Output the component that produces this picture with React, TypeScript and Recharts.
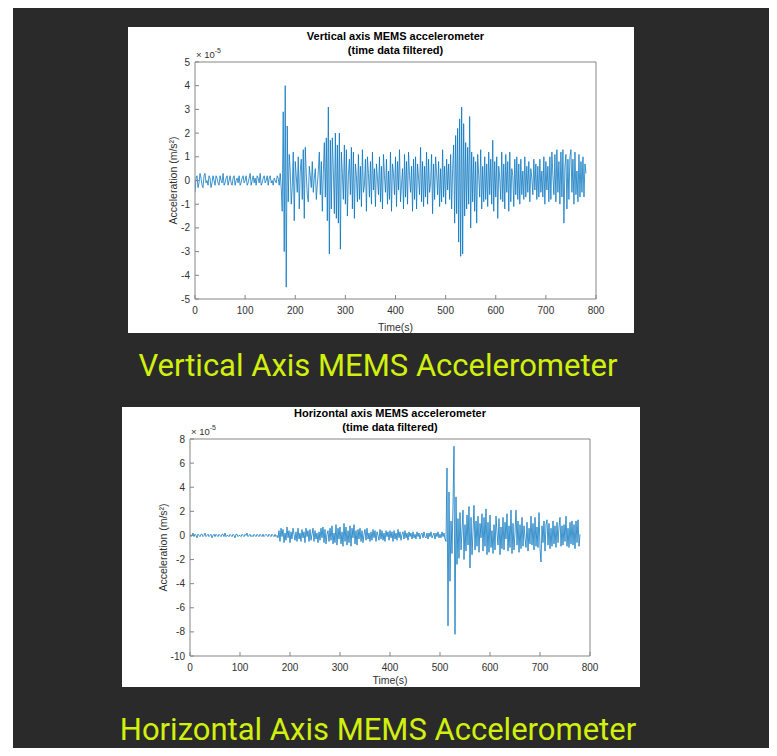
import React from 'react';
import { LineChart, Line, XAxis, YAxis } from 'recharts';

// seconds between samples
const SAMPLE_STEP = 2;

const TIME_TICKS = [0, 100, 200, 300, 400, 500, 600, 700, 800];
const VERTICAL_TICKS = [-5, -4, -3, -2, -1, 0, 1, 2, 3, 4, 5];
const HORIZONTAL_TICKS = [-10, -8, -6, -4, -2, 0, 2, 4, 6, 8];

// acceleration in units of 1e-5 m/s², one value every SAMPLE_STEP seconds (0..780 s)
const VERTICAL_ACCEL = [
  -0.5, 0.1, 0.2, -0.3, -0.1, 0.3, 0.1, -0.2, -0.3, 0.2,
  0.3, -0.1, 0.0, -0.2, 0.2, 0.1, -0.3, -0.1, 0.2, 0.0,
  -0.2, 0.2, 0.1, -0.1, -0.2, 0.2, 0.0, -0.1, 0.3, -0.2,
  -0.1, 0.1, 0.2, -0.2, 0.0, 0.2, -0.1, -0.2, 0.1, 0.2,
  -0.2, 0.0, 0.1, -0.1, 0.2, -0.2, -0.1, 0.1, 0.2, -0.1,
  0.0, 0.2, -0.2, -0.1, 0.1, 0.3, -0.2, 0.0, 0.2, -0.1,
  0.1, -0.2, 0.2, 0.1, -0.1, 0.3, -0.2, -0.1, 0.1, 0.2,
  -0.1, 0.0, 0.2, -0.2, 0.1, 0.2, -0.1, 0.0, -0.2, 0.1,
  0.0, -0.1, 0.2, 0.1, -0.2, 0.3, -0.3, -1.3, 2.9, -3.0,
  4.0, -4.5, 2.3, -0.9, 1.1, 0.4, -1.0, -0.3, 1.2, -1.7,
  0.8, 0.2, -0.5, 1.0, -1.2, 0.4, 0.9, -0.8, 1.3, -1.6,
  1.4, 0.3, -0.6, -0.9, 0.6, 0.2, -0.3, 0.8, -0.5, 0.1,
  0.5, -0.8, -0.2, 0.4, 1.2, -0.6, 0.8, -1.3, 0.3, 1.6,
  -0.7, 1.8, -1.7, 3.1, -3.1, 1.7, -1.2, 1.8, 0.4, -1.4,
  2.0, -1.6, 1.5, -1.8, 2.0, -2.9, 1.2, 0.3, -0.8, 1.5,
  -1.0, 1.3, -1.5, 0.2, 0.9, -0.6, 1.4, -1.2, 1.2, -1.6,
  0.7, 0.2, -0.9, 1.1, -0.8, 0.6, -1.1, 1.3, -0.5, -0.2,
  0.9, -1.3, 1.0, 0.3, -0.7, 0.8, -1.0, 1.2, -0.4, 0.5,
  -1.1, 0.7, 0.1, -0.6, 1.0, -0.9, 0.6, -1.2, 1.1, 0.2,
  -0.5, 0.9, -1.0, 0.4, -0.8, 1.2, -1.3, 0.7, 0.3, -0.6,
  1.0, -1.1, 0.8, -0.4, 1.3, -0.9, -0.2, 0.5, -1.2, 1.1,
  -0.7, 0.8, -1.0, 1.2, 0.2, -0.5, 0.6, -1.3, 0.9, -0.8,
  1.0, -1.2, 0.7, 0.1, -0.6, 1.4, -0.9, 0.8, -1.1, 0.6,
  -0.7, 1.2, -1.0, 0.9, -0.5, -0.1, 1.1, -1.4, 0.7, -0.8,
  1.0, 0.3, -0.6, 0.8, -1.1, 0.5, -0.9, 1.3, -0.7, 0.6,
  -1.0, 0.9, -0.4, 0.7, -0.8, 1.1, -1.2, 0.5, 1.5, -1.8,
  1.9, -1.4, 2.2, -2.6, 2.6, -3.2, 3.1, -3.1, 2.4, -1.5,
  1.6, -1.2, 1.4, -1.0, 2.7, -2.0, 1.2, -0.9, 1.0, -1.3,
  0.8, -1.8, 1.1, 0.2, -0.7, 1.3, -1.2, 0.6, -0.9, 1.0,
  -0.8, 0.7, -1.1, 1.2, -0.6, 0.9, -1.0, 1.7, -1.3, 0.8,
  -0.7, 1.0, -1.6, 0.6, 0.1, -0.8, 1.2, -0.9, 0.7, -1.2,
  1.1, -0.5, 0.8, -1.3, 1.2, -0.9, 0.5, 0.2, -1.1, 0.9,
  -0.6, 1.0, -0.8, 0.7, -1.0, 0.9, -0.6, 0.4, -0.8, 1.0,
  -0.7, 0.6, -0.5, 0.8, -0.9, 0.5, 0.1, -0.6, 0.9, -0.4,
  0.7, -0.8, 0.6, -0.7, 0.9, -0.5, 0.4, -0.7, 1.0, -1.0,
  0.8, -0.4, 0.6, -0.9, 1.0, -0.8, 1.2, 0.2, -0.6, 1.1,
  -0.9, 1.3, -0.5, 0.8, -1.0, 1.2, -0.7, 1.3, -1.8, 0.6,
  1.1, -1.2, 0.9, -0.8, 1.0, 1.3, -0.5, 0.9, -1.0, 1.2,
  -0.6, 0.4, -0.9, 1.1, -0.7, 0.8, -0.5, 1.0, -0.7, 0.7,
  0.3,
];

const HORIZONTAL_ACCEL = [
  0.1, -0.1, 0.0, 0.2, -0.1, 0.1, 0.0, -0.2, 0.1, 0.0,
  -0.1, 0.1, 0.1, -0.1, 0.0, 0.2, -0.1, 0.0, 0.1, -0.1,
  0.0, 0.1, -0.2, 0.0, 0.1, -0.1, 0.1, 0.0, -0.1, 0.1,
  0.0, -0.1, 0.1, 0.1, -0.1, 0.2, -0.1, 0.0, 0.0, -0.1,
  0.1, 0.0, -0.1, 0.1, 0.0, -0.2, 0.1, 0.1, -0.1, 0.0,
  0.0, -0.1, 0.1, 0.0, -0.1, 0.1, 0.0, 0.2, -0.1, 0.0,
  0.1, -0.1, 0.0, -0.1, 0.1, 0.0, -0.1, 0.1, 0.0, -0.1,
  0.1, 0.0, -0.1, 0.1, -0.1, 0.0, 0.1, 0.0, -0.1, 0.1,
  0.0, -0.1, 0.1, 0.0, -0.1, 0.1, -0.1, 0.0, -0.2, 0.4,
  -0.5, 0.6, -0.1, 0.5, -0.6, 0.2, -0.4, 0.7, -0.2, 0.4,
  -0.6, 0.3, -0.3, 0.6, 0.1, -0.4, 0.3, -0.5, 0.6, -0.3,
  0.2, -0.5, 0.5, -0.2, 0.3, -0.6, 0.6, -0.1, 0.4, -0.5,
  0.5, -0.4, 0.1, 0.6, -0.5, 0.4, -0.3, 0.2, -0.6, 0.3,
  -0.4, 0.6, -0.2, 0.7, -0.6, 0.5, -0.7, 0.1, 0.4, -0.5,
  0.6, -0.4, 0.8, -0.7, 0.2, -0.6, 0.9, -0.8, 0.6, -0.3,
  0.7, -0.7, 0.3, -0.9, 1.0, -0.5, 0.7, -0.8, 0.4, -0.6,
  0.8, -0.9, 0.6, -0.2, 0.9, -0.7, 0.4, -0.8, 0.5, -0.3,
  0.6, -0.5, 0.4, -0.6, 0.1, 0.5, -0.4, 0.6, -0.3, 0.2,
  -0.5, 0.3, -0.4, 0.5, -0.2, 0.4, -0.5, 0.3, 0.0, -0.4,
  0.5, -0.3, 0.4, -0.4, 0.2, -0.5, 0.4, -0.1, 0.3, -0.4,
  0.4, -0.2, 0.3, -0.5, 0.4, -0.3, 0.2, -0.4, 0.5, -0.2,
  0.3, -0.4, 0.1, 0.3, -0.3, 0.4, -0.2, 0.2, -0.4, 0.3,
  -0.1, 0.2, -0.3, 0.3, -0.2, 0.1, -0.3, 0.3, -0.1, 0.2,
  -0.3, 0.1, 0.2, -0.2, 0.3, -0.1, -0.2, 0.2, -0.3, 0.2,
  -0.1, 0.3, -0.2, 0.0, 0.2, -0.3, 0.2, -0.1, 0.3, -0.2,
  0.1, -0.2, 0.3, -0.1, 0.2, -0.3, -0.5, 5.6, -7.5, 3.6,
  -3.8, 1.2, -1.5, 2.5, 7.4, -8.2, 3.2, -2.4, 1.4, -1.9,
  1.9, -1.2, 0.4, 2.1, -2.0, 0.9, -1.3, 1.7, -0.8, 2.4,
  -2.7, 1.5, -1.6, 0.3, 2.5, -1.2, 1.2, -0.9, 1.6, -1.4,
  1.0, -0.2, 1.8, -1.3, 1.5, -0.9, 2.2, -1.6, 1.1, -1.4,
  1.7, -1.0, 0.4, -1.5, 0.9, -1.2, 1.6, 0.2, -0.8, 1.4,
  -1.6, 0.7, -1.1, 1.5, -1.2, 1.1, -0.3, 1.8, -1.3, 0.8,
  -1.0, 2.1, -1.5, 1.0, -1.2, 0.2, 2.1, -0.8, 1.2, -1.4,
  0.9, -1.1, 1.5, -0.9, 0.8, -0.2, -1.0, 1.1, -1.3, 0.6,
  -0.7, 1.6, -0.8, 1.0, -1.2, 1.5, -0.9, 0.7, -1.0, 1.9,
  -1.1, -2.2, 0.8, -0.6, 1.2, -1.3, 0.9, 1.3, -0.8, 1.0,
  -1.1, 0.6, -0.9, 1.2, -0.7, 0.8, -1.0, 1.1, -0.6, 0.7,
  1.5, -0.9, 0.8, -0.8, 0.9, -0.5, 1.6, -0.9, 0.6, -1.0,
  1.1, -0.7, 1.2, -0.8, 0.9, -1.1, 1.2, -0.6, 1.3, -0.9,
  0.1,
];

const Colors = {
  Page: '#2a2a2a',
  Panel: '#ffffff',
  Line: '#0072bd',
  Axis: '#858585',
  TickText: '#303030',
  Title: '#000000',
  Caption: '#d2f00d',
} as const;

const FONT = '"Liberation Sans", Arial, Helvetica, sans-serif';

type PanelProps = {
  left: number;
  top: number;
  width: number;
  height: number;
  // plot box inside the panel
  plotLeft: number;
  plotTop: number;
  plotRight: number;
  plotBottom: number;
  title: string;
  values: number[];
  yDomain: [number, number];
  yTicks: number[];
  yLabelX: number;
  xLabelY: number;
};

const AccelPanel = (p: PanelProps) => {
  const data = p.values.map((a, i) => ({ t: i * SAMPLE_STEP, a }));
  const cx = (p.plotLeft + p.plotRight) / 2;
  const cy = (p.plotTop + p.plotBottom) / 2;
  const tickStyle = { fill: Colors.TickText, fontSize: 10, fontFamily: FONT };

  return (
    <div style={{ position: 'absolute', left: p.left, top: p.top, width: p.width, height: p.height, background: Colors.Panel }}>
      <LineChart width={p.width} height={p.height} data={data} margin={{ top: 0, right: 0, bottom: 0, left: 0 }}>
        <XAxis
          xAxisId="bottom"
          type="number"
          dataKey="t"
          domain={[0, 800]}
          ticks={TIME_TICKS}
          interval={0}
          allowDataOverflow
          height={p.height - p.plotBottom}
          stroke={Colors.Axis}
          tickSize={-4}
          tickMargin={11.5}
          tick={tickStyle}
        />
        <XAxis
          xAxisId="top"
          orientation="top"
          type="number"
          dataKey="t"
          domain={[0, 800]}
          ticks={TIME_TICKS}
          interval={0}
          allowDataOverflow
          height={p.plotTop}
          stroke={Colors.Axis}
          tickSize={-4}
          tick={false}
        />
        <YAxis
          yAxisId="left"
          type="number"
          domain={p.yDomain}
          ticks={p.yTicks}
          interval={0}
          allowDataOverflow
          width={p.plotLeft}
          stroke={Colors.Axis}
          tickSize={-4}
          tickMargin={9}
          tick={tickStyle}
        />
        <YAxis
          yAxisId="right"
          orientation="right"
          type="number"
          domain={p.yDomain}
          ticks={p.yTicks}
          interval={0}
          allowDataOverflow
          width={p.width - p.plotRight}
          stroke={Colors.Axis}
          tickSize={-4}
          tick={false}
        />
        <Line
          xAxisId="bottom"
          yAxisId="left"
          type="linear"
          dataKey="a"
          stroke={Colors.Line}
          strokeWidth={0.75}
          dot={false}
          activeDot={false}
          isAnimationActive={false}
        />
      </LineChart>

      {/* title, exponent and axis labels */}
      <svg
        width={p.width}
        height={p.height}
        style={{ position: 'absolute', left: 0, top: 0, pointerEvents: 'none' }}
        fontFamily={FONT}
      >
        <text x={cx} y={p.plotTop - 22.5} textAnchor="middle" fontSize={11} fontWeight="bold" fill={Colors.Title}>
          {p.title}
        </text>
        <text x={cx} y={p.plotTop - 8.5} textAnchor="middle" fontSize={11} fontWeight="bold" fill={Colors.Title}>
          (time data filtered)
        </text>
        <text x={p.plotLeft + 1} y={p.plotTop - 4.5} fontSize={9.5} fill={Colors.TickText}>
          {'× 10'}
          <tspan dy={-4.5} fontSize={7}>-5</tspan>
        </text>
        <text
          x={p.yLabelX}
          y={cy}
          textAnchor="middle"
          fontSize={10.5}
          fill={Colors.TickText}
          transform={`rotate(-90 ${p.yLabelX} ${cy})`}
        >
          Acceleration (m/s²)
        </text>
        <text x={cx} y={p.xLabelY} textAnchor="middle" fontSize={10.5} fill={Colors.TickText}>
          Time(s)
        </text>
      </svg>
    </div>
  );
};

const captionStyle: React.CSSProperties = {
  position: 'absolute',
  left: 0,
  width: 756,
  textAlign: 'center',
  fontFamily: 'Roboto, "Noto Sans", sans-serif',
  fontSize: 31,
  lineHeight: '31px',
  color: Colors.Caption,
  whiteSpace: 'nowrap',
};

const App = () => {
  return (
    <div style={{ position: 'relative', width: 777, height: 756, margin: -8, background: '#fff', overflow: 'hidden' }}>
      <div style={{ position: 'absolute', left: 13, top: 7, right: 0, bottom: 0, background: Colors.Page }} />

      <AccelPanel
        left={128}
        top={27}
        width={506}
        height={306}
        plotLeft={67}
        plotTop={35}
        plotRight={468}
        plotBottom={272}
        title="Vertical axis MEMS accelerometer"
        values={VERTICAL_ACCEL}
        yDomain={[-5, 5]}
        yTicks={VERTICAL_TICKS}
        yLabelX={48.5}
        xLabelY={303.5}
      />
      <div style={{ ...captionStyle, top: 350 }}>Vertical Axis MEMS Accelerometer</div>

      <AccelPanel
        left={122}
        top={407}
        width={518}
        height={280}
        plotLeft={68}
        plotTop={32}
        plotRight={468}
        plotBottom={249}
        title="Horizontal axis MEMS accelerometer"
        values={HORIZONTAL_ACCEL}
        yDomain={[-10, 8]}
        yTicks={HORIZONTAL_TICKS}
        yLabelX={44.5}
        xLabelY={276.5}
      />
      <div style={{ ...captionStyle, top: 714 }}>Horizontal Axis MEMS Accelerometer</div>
    </div>
  );
};

export default App;
